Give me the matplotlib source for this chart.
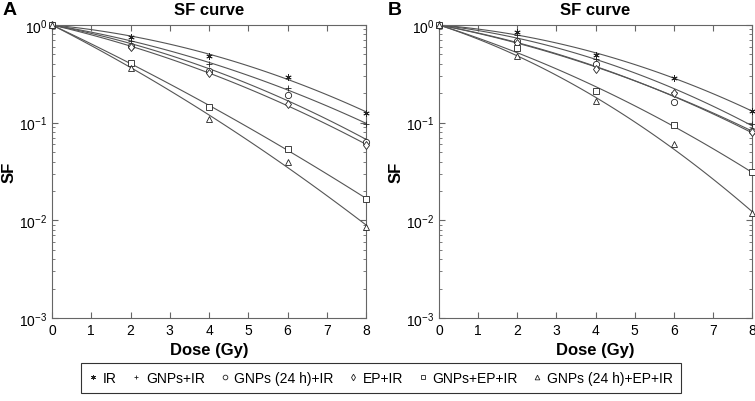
import numpy as np
import matplotlib.pyplot as plt
from matplotlib.ticker import LogLocator, NullFormatter

plt.rcParams["font.family"] = ["Liberation Sans", "DejaVu Sans"]

dose = [0, 2, 4, 6, 8]
labels = ["IR", "GNPs+IR", "GNPs (24 h)+IR", "EP+IR", "GNPs+EP+IR", "GNPs (24 h)+EP+IR"]

# surviving fractions, panel A
sf_a = [
    [1.0, 0.76, 0.485, 0.296, 0.126],
    [1.0, 0.69, 0.40, 0.226, 0.097],
    [1.0, 0.61, 0.34, 0.19, 0.064],
    [1.0, 0.59, 0.32, 0.155, 0.059],
    [1.0, 0.405, 0.146, 0.054, 0.0166],
    [1.0, 0.363, 0.109, 0.040, 0.0085],
]
# panel B
sf_b = [
    [1.0, 0.855, 0.49, 0.285, 0.133],
    [1.0, 0.79, 0.45, 0.205, 0.097],
    [1.0, 0.69, 0.40, 0.164, 0.083],
    [1.0, 0.65, 0.355, 0.20, 0.080],
    [1.0, 0.58, 0.21, 0.095, 0.031],
    [1.0, 0.48, 0.168, 0.060, 0.0118],
]

markers = [(6, 2, 0), "+", "o", "d", "s", "^"]
filled = [True, True, False, False, False, False]


def lq_fit(d, sf):
    # linear-quadratic fit: ln SF = -a*D - b*D^2
    d = np.array(d, dtype=float)
    A = np.column_stack([d, d ** 2])
    coef, *_ = np.linalg.lstsq(A, -np.log(sf), rcond=None)
    xs = np.linspace(0, 8, 100)
    return xs, np.exp(-coef[0] * xs - coef[1] * xs ** 2)


fig = plt.figure(figsize=(7.55, 4.02), dpi=100)
ax_a = fig.add_axes([52 / 755, 1 - 319 / 402, 314 / 755, 293 / 402])
ax_b = fig.add_axes([439 / 755, 1 - 319 / 402, 313 / 755, 293 / 402])

handles = []
for ax, data in [(ax_a, sf_a), (ax_b, sf_b)]:
    for i, sf in enumerate(data):
        xs, ys = lq_fit(dose, sf)
        ax.plot(xs, ys, color="#555555", lw=0.8, zorder=2)
        h, = ax.plot(dose, sf, linestyle="none", marker=markers[i], ms=4.5,
                     mec="#222222", mfc="#222222" if filled[i] else "white",
                     mew=0.6, clip_on=False, zorder=3, label=labels[i])
        if ax is ax_a:
            handles.append(h)
    ax.set_yscale("log")
    ax.set_xlim(0, 8)
    ax.set_ylim(1e-3, 1)
    ax.set_xticks(range(9))
    ax.yaxis.set_major_locator(LogLocator(base=10, numticks=10))
    ax.yaxis.set_minor_locator(LogLocator(base=10, subs=np.arange(2, 10), numticks=10))
    ax.yaxis.set_minor_formatter(NullFormatter())
    ax.tick_params(which="both", direction="in", top=True, right=True,
                   color="#666666", labelsize=10)
    ax.tick_params(which="major", length=4)
    ax.tick_params(which="minor", length=2)
    for sp in ax.spines.values():
        sp.set_color("#666666")
        sp.set_linewidth(0.8)
    ax.set_title("SF curve", fontsize=12, fontweight="bold", pad=8)
    ax.set_xlabel("Dose (Gy)", fontsize=12, fontweight="bold", labelpad=4)
    ax.set_ylabel("SF", fontsize=12, fontweight="bold", labelpad=2)

fig.text(0.003, 0.975, "A", fontsize=14, fontweight="bold", va="center")
fig.text(388 / 755, 0.975, "B", fontsize=14, fontweight="bold", va="center")

leg = fig.legend(handles=handles, loc="center", bbox_to_anchor=(381 / 755, 1 - 379 / 402),
                 ncol=6, fontsize=10, frameon=True, fancybox=False, handlelength=0.6,
                 handletextpad=0.4, columnspacing=1.1, markerscale=0.75, borderpad=0.6)
leg.get_frame().set_edgecolor("black")
leg.get_frame().set_linewidth(0.8)

fig.savefig("out.png", dpi=100)
